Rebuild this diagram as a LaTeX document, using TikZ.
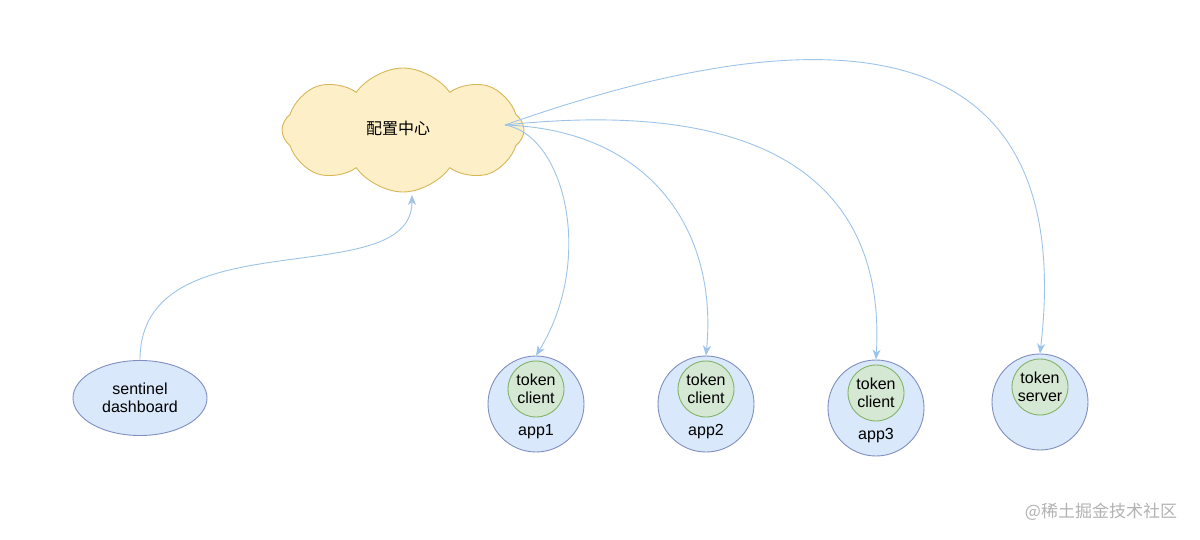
\documentclass[tikz,border=0pt]{standalone}
\usepackage{fontspec}
\setmainfont{Liberation Sans}
\newfontfamily\cjk{Noto Sans CJK SC}
\usetikzlibrary{shapes.symbols}
\usetikzlibrary{shapes.geometric}
\usetikzlibrary{arrows.meta}
\usetikzlibrary{positioning}

\definecolor{cloudfill}{HTML}{FDF0C8}
\definecolor{clouddraw}{HTML}{D6B656}
\definecolor{appfill}{HTML}{DAE8FC}
\definecolor{appdraw}{HTML}{7F8FBF}
\definecolor{tokfill}{HTML}{D5E8D4}
\definecolor{tokdraw}{HTML}{82B366}
\definecolor{linkcol}{HTML}{9DC3EA}

\tikzset{
  txt/.style={font=\fontsize{16}{18}\selectfont, align=center},
  appbox/.style={circle, draw=appdraw, fill=appfill, line width=0.9pt, minimum size=96pt, inner sep=0pt},
  tokbox/.style={circle, draw=tokdraw, fill=tokfill, line width=0.9pt, minimum size=56pt, inner sep=0pt, txt},
  link/.style={draw=linkcol, line width=0.9pt, -{Stealth[length=10pt, width=8pt, inset=3pt]}}
}

\begin{document}
\begin{tikzpicture}[x=1pt, y=-1pt]

        \useasboundingbox (0,0) rectangle (1200,540);

        % Config centre
        \node (cfg) [cloud, cloud puffs=8, cloud puff arc=110, cloud ignores aspect,
          draw=clouddraw, fill=cloudfill, line width=0.9pt,
          minimum width=242pt, minimum height=124pt] at (403,130) {};
        \node (cfgtxt) [txt] at (398,128) {\cjk 配置中心};
        \coordinate (hub) at (505,125);
        \coordinate (cfgbot) at (412,195);

        % Dashboard
        \node (dash) [ellipse, draw=appdraw, fill=appfill, line width=0.9pt,
          minimum width=134pt, minimum height=75pt, txt] at (140,398)
          {sentinel\\dashboard};

        % Apps with token clients
        \def\tokup{15}
        \foreach \i/\x/\y in {1/536/404, 2/706/404, 3/876/408} {
          \node (app\i) [appbox] at (\x,\y) {};
          \node (tok\i) [tokbox] at (\x,\y-\tokup) {token\\client};
          \node (lbl\i) [txt] at (\x,\y+28) {app\i};
        }

        % Token server
        \node (srv) [appbox] at (1040,402) {};
        \node (tok4) [tokbox] at (1040,387) {token\\server};

        % Links
        \draw[link] (dash.north) .. controls (140,215) and (412,295) .. (cfgbot);
        \draw[link] (hub) .. controls (565,135) and (595,260) .. (app1.north);
        \draw[link] (hub) .. controls (650,130) and (718,230) .. (app2.north);
        \draw[link] (hub) .. controls (790,95) and (885,200) .. (app3.north);
        \draw[link] (hub) .. controls (830,10) and (1078,25) .. (srv.north);

        % Watermark
        \node (mark) [font=\cjk\fontsize{17}{19}\selectfont, text=black!30] at (1101,512) {@稀土掘金技术社区};

\end{tikzpicture}
\end{document}
